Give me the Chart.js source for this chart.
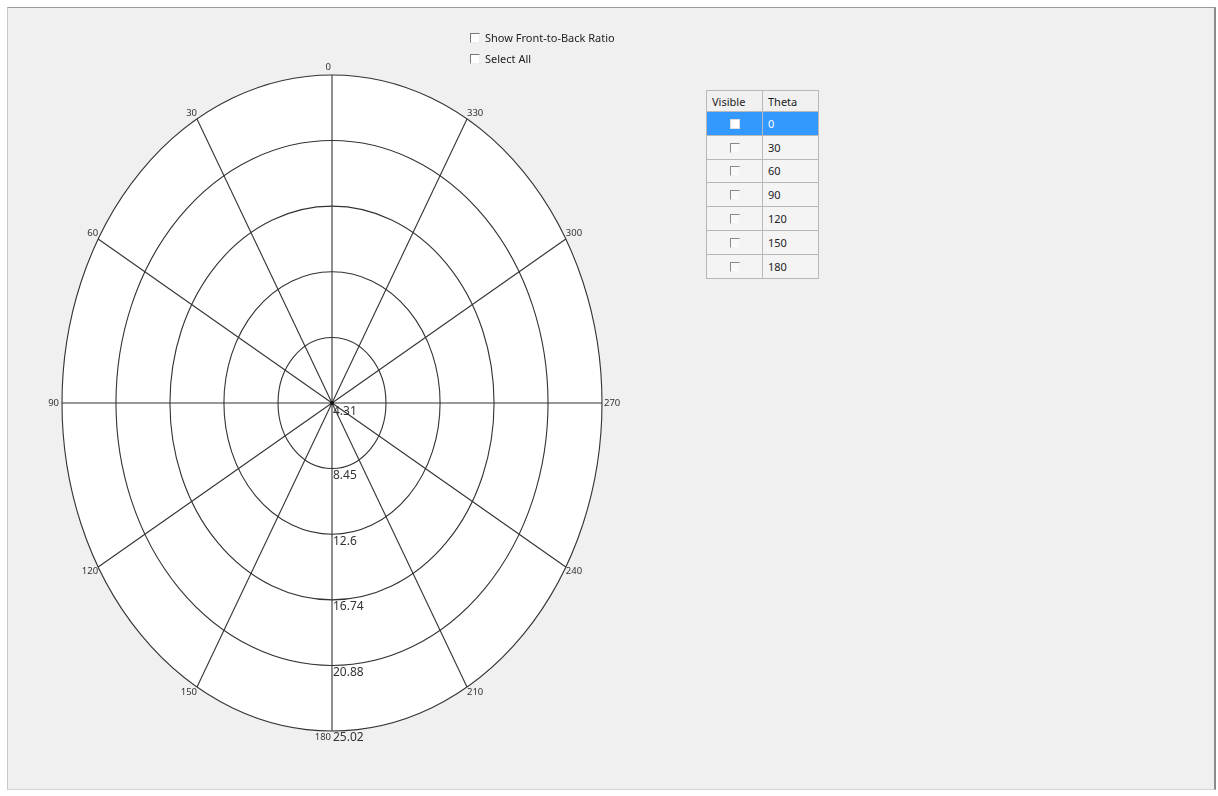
<!DOCTYPE html>
<html>
<head>
<meta charset="utf-8">
<script src="https://cdn.jsdelivr.net/npm/chart.js@4/dist/chart.umd.min.js"></script>
<style>
  html, body { margin:0; padding:0; background:#ffffff; width:1218px; height:796px; overflow:hidden; font-family:"Noto Sans", "Open Sans", sans-serif; }
  #panel { position:absolute; left:7px; top:7px; width:1206px; height:781px; background:#f0f0f0;
           border-top:1px solid #9a9a9a; border-left:1px solid #c8c8c8; border-right:2px solid #8a8a8a; border-bottom:1px solid #d6d6d6; }
  #c { position:absolute; left:0; top:0; }
  .cb { position:absolute; font-size:11px; color:#222; line-height:14px; }
  .cb .box { display:inline-block; width:8px; height:8px; border-top:1px solid #777; border-left:1px solid #777; border-right:1px solid #eee; border-bottom:1px solid #eee; background:#fff; vertical-align:-1px; margin-right:5px; }
  #tbl { position:absolute; left:706px; top:90px; border-collapse:collapse; font-size:11px; color:#222; background:#f4f4f4; }
  #tbl td, #tbl th { border:1px solid #b8b8b8; height:22.8px; padding:0 5px; font-weight:normal; text-align:left; }
  #tbl th { height:20px; background:#f0f0f0; }
  #tbl td.v { width:45px; text-align:center; }
  #tbl td.t { width:45px; }
  #tbl tr.sel td { background:#3399ff; color:#fff; }
  .sb { display:inline-block; width:8px; height:8px; border-top:1px solid #888; border-left:1px solid #888; border-right:1px solid #f4f4f4; border-bottom:1px solid #f4f4f4; background:#fafafa; vertical-align:-1px; }
  tr.sel .sb { background:#fff; border-color:#ddd; }
</style>
</head>
<body>
<div id="panel"></div>
<canvas id="c" width="1218" height="796"></canvas>
<div class="cb" style="left:470px; top:31px;"><span class="box"></span>Show Front-to-Back Ratio</div>
<div class="cb" style="left:470px; top:52px;"><span class="box"></span>Select All</div>
<table id="tbl"><thead><tr><th>Visible</th><th>Theta</th></tr></thead><tbody id="tb"></tbody></table>
<script>
// ---- data ----
const angleValues = [0, 30, 60, 90, 120, 150, 180, 210, 240, 270, 300, 330];
const angleLabels = ['0', '30', '60', '90', '120', '150', '180', '210', '240', '270', '300', '330'];
const radialTicks = [4.31, 8.45, 12.6, 16.74, 20.88, 25.02];
const thetaRows = ['0', '30', '60', '90', '120', '150', '180'];

// table
const tb = document.getElementById('tb');
thetaRows.forEach((t, i) => {
  const tr = document.createElement('tr');
  if (i === 0) tr.className = 'sel';
  tr.innerHTML = '<td class="v"><span class="sb"></span></td><td class="t">' + t + '</td>';
  tb.appendChild(tr);
});

const rMin = radialTicks[0];
const rMax = radialTicks[radialTicks.length - 1];
const span = rMax - rMin;

const polarGrid = {
  id: 'polarGrid',
  beforeDatasetsDraw(chart) {
    const ctx = chart.ctx;
    const xs = chart.scales.x, ys = chart.scales.y;
    const cx = xs.getPixelForValue(0), cy = ys.getPixelForValue(0);
    const px = (v) => xs.getPixelForValue(v);
    const py = (v) => ys.getPixelForValue(v);
    const rx = px(span) - cx, ry = cy - py(span);
    ctx.save();
    // white face
    ctx.beginPath();
    ctx.ellipse(cx, cy, rx, ry, 0, 0, Math.PI * 2);
    ctx.fillStyle = '#ffffff';
    ctx.fill();
    ctx.strokeStyle = '#333333';
    ctx.lineWidth = 1.1;
    // rings
    radialTicks.slice(1).forEach(v => {
      const r = v - rMin;
      ctx.beginPath();
      ctx.ellipse(cx, cy, px(r) - cx, cy - py(r), 0, 0, Math.PI * 2);
      ctx.stroke();
    });
    // spokes + angle labels
    ctx.font = '9.5px "Noto Sans", sans-serif';
    ctx.fillStyle = '#333';
    angleValues.forEach((a, i) => {
      const rad = a * Math.PI / 180;
      const ex = px(-span * Math.sin(rad));
      const ey = py(span * Math.cos(rad));
      ctx.beginPath();
      ctx.moveTo(cx, cy);
      ctx.lineTo(ex, ey);
      ctx.stroke();
      let tx = ex, ty = ey;
      if (a === 0) { ctx.textAlign = 'right'; ctx.textBaseline = 'bottom'; tx -= 1; ty -= 3; }
      else if (a < 90) { ctx.textAlign = 'right'; ctx.textBaseline = 'bottom'; ty -= 1; }
      else if (a === 90) { ctx.textAlign = 'right'; ctx.textBaseline = 'middle'; tx -= 3; }
      else if (a < 180) { ctx.textAlign = 'right'; ctx.textBaseline = 'top'; }
      else if (a === 180) { ctx.textAlign = 'right'; ctx.textBaseline = 'top'; tx -= 1; ty += 2; }
      else if (a < 270) { ctx.textAlign = 'left'; ctx.textBaseline = 'top'; }
      else if (a === 270) { ctx.textAlign = 'left'; ctx.textBaseline = 'middle'; tx += 2; }
      else { ctx.textAlign = 'left'; ctx.textBaseline = 'bottom'; ty -= 1; }
      ctx.fillText(angleLabels[i], tx, ty);
    });
    // centre dot
    ctx.beginPath();
    ctx.arc(cx, cy, 2, 0, Math.PI * 2);
    ctx.fillStyle = '#111';
    ctx.fill();
    // radial tick labels along the downward axis
    ctx.font = '12px "Noto Sans", sans-serif';
    ctx.fillStyle = '#333';
    ctx.textAlign = 'left';
    ctx.textBaseline = 'top';
    radialTicks.forEach(v => {
      const r = v - rMin;
      ctx.fillText(String(v), cx + 1, py(-r) + (r === 0 ? 3 : 1));
    });
    ctx.restore();
  }
};

new Chart(document.getElementById('c'), {
  type: 'scatter',
  data: { datasets: [{ data: [], pointRadius: 0 }] },
  options: {
    responsive: false,
    maintainAspectRatio: false,
    animation: false,
    layout: { padding: { left: 62, right: 1218 - 602, top: 75, bottom: 796 - 731 } },
    plugins: { legend: { display: false }, tooltip: { enabled: false }, title: { display: false } },
    scales: {
      x: { type: 'linear', min: -span, max: span, display: false },
      y: { type: 'linear', min: -span, max: span, display: false }
    }
  },
  plugins: [polarGrid]
});
</script>
</body>
</html>
